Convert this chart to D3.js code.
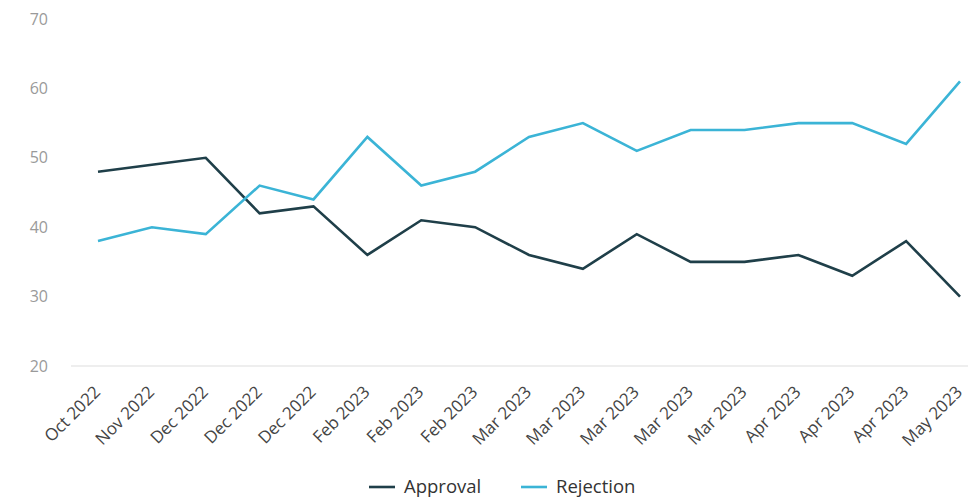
<!DOCTYPE html>
<html>
<head>
<meta charset="utf-8">
<script src="https://cdn.jsdelivr.net/npm/d3@7/dist/d3.min.js"></script>
<style>
  html, body { margin: 0; padding: 0; background: #fff; }
  svg { display: block; font-family: "Open Sans", sans-serif; }
</style>
</head>
<body>
<svg id="chart" width="968" height="498"></svg>
<script>
// Survey waves (x categories)
const months = ["Oct 2022", "Nov 2022", "Dec 2022", "Dec 2022", "Dec 2022",
  "Feb 2023", "Feb 2023", "Feb 2023", "Mar 2023", "Mar 2023", "Mar 2023",
  "Mar 2023", "Mar 2023", "Apr 2023", "Apr 2023", "Apr 2023", "May 2023"];

// Percent approving / rejecting in each wave
const approval = [48, 49, 50, 42, 43, 36, 41, 40, 36, 34, 39, 35, 35, 36, 33, 38, 30];
const rejection = [38, 40, 39, 46, 44, 53, 46, 48, 53, 55, 51, 54, 54, 55, 55, 52, 61];

const yTicks = [20, 30, 40, 50, 60, 70];

const seriesNames = ["Approval", "Rejection"];
const seriesColors = ["#1f3f49", "#3bb4d6"];

const svg = d3.select("#chart");
const idx = months.map((_, i) => i);

const x = d3.scalePoint().domain(idx).range([98, 960]);
const y = d3.scaleLinear().domain([20, 70]).range([366, 19]);

// Y axis labels (no line)
const yAxis = svg.append("g")
  .attr("transform", "translate(48,0)")
  .call(d3.axisLeft(y).tickValues(yTicks).tickSize(0).tickPadding(0));
yAxis.select(".domain").remove();
yAxis.selectAll("text")
  .attr("fill", "#9a9a9a")
  .style("font-size", "16px")
  .style("font-family", "'Open Sans', sans-serif");

// Baseline
svg.append("line")
  .attr("x1", 71).attr("x2", 968)
  .attr("y1", y(20)).attr("y2", y(20))
  .attr("stroke", "#dedede").attr("stroke-width", 1.2);

// X axis labels rotated
const xAxis = svg.append("g")
  .attr("transform", `translate(0,${y(20)})`)
  .call(d3.axisBottom(x).tickSize(0).tickFormat(i => months[i]));
xAxis.select(".domain").remove();
xAxis.selectAll("text")
  .attr("fill", "#444")
  .style("font-size", "17px")
  .style("font-family", "'Open Sans', sans-serif")
  .attr("text-anchor", "end")
  .attr("y", 0)
  .attr("dy", 0)
  .attr("transform", "translate(3,27) rotate(-45)");

// Lines
const line = d3.line().x((d, i) => x(i)).y(d => y(d));
[approval, rejection].forEach((vals, k) => {
  svg.append("path")
    .datum(vals)
    .attr("fill", "none")
    .attr("stroke", seriesColors[k])
    .attr("stroke-width", 2.6)
    .attr("stroke-linejoin", "miter")
    .attr("d", line);
});

// Legend
const legendX = [369, 521];
const legend = svg.append("g");
seriesNames.forEach((name, k) => {
  const g = legend.append("g").attr("transform", `translate(${legendX[k]},487)`);
  g.append("line").attr("x1", 0).attr("x2", 26).attr("y1", 0).attr("y2", 0)
    .attr("stroke", seriesColors[k]).attr("stroke-width", 2.6);
  g.append("text").attr("x", 35).attr("y", 0).attr("dy", "0.35em")
    .attr("fill", "#333")
    .style("font-size", "18.5px")
    .text(name);
});
</script>
</body>
</html>
